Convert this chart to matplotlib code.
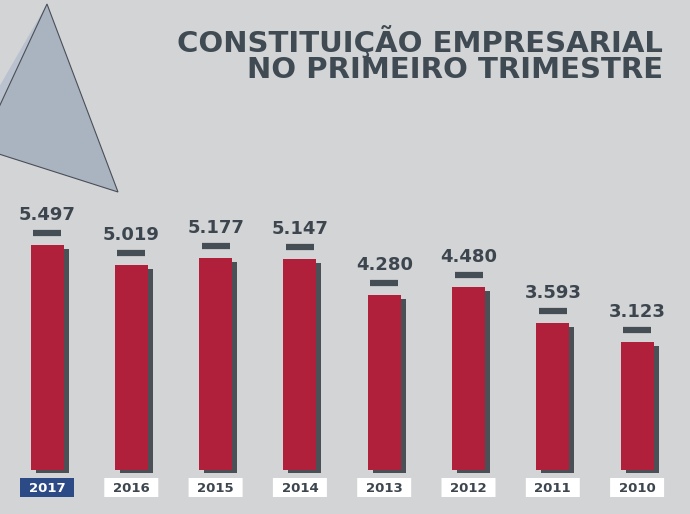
import matplotlib
matplotlib.use("Agg")
import matplotlib.pyplot as plt
from matplotlib.patches import Polygon, FancyBboxPatch
from matplotlib.transforms import blended_transform_factory
import numpy as np

years = ["2017", "2016", "2015", "2014", "2013", "2012", "2011", "2010"]
values = [5497, 5019, 5177, 5147, 4280, 4480, 3593, 3123]
labels = ["5.497", "5.019", "5.177", "5.147", "4.280", "4.480", "3.593", "3.123"]
highlight = "2017"
title_lines = ["CONSTITUIÇÃO EMPRESARIAL", "NO PRIMEIRO TRIMESTRE"]

W, H = 690, 514
BG = "#d3d4d6"
RED = "#b0203a"
SHADOW = "#4a5056"
DARK = "#3d464e"
BLUE = "#2c4a86"
FONT = ["DejaVu Sans"]

fig = plt.figure(figsize=(W / 100, H / 100), dpi=100, facecolor=BG)

# background decoration axes (pixel coords, origin top-left)
bg = fig.add_axes([0, 0, 1, 1])
bg.set_xlim(0, W)
bg.set_ylim(H, 0)
bg.axis("off")
bg.add_patch(Polygon([(47, 4), (118, 192), (-20, 148)], closed=True,
                     facecolor="#aab3c0", edgecolor="#4a4f57", lw=0.8, zorder=1))
bg.add_patch(Polygon([(47, 4), (-20, 150), (-20, 120)], closed=True,
                     facecolor="#b9c2ce", edgecolor="none", zorder=0.9))
bg.text(663, 54.5, "\n".join(title_lines), ha="right", va="center",
        multialignment="right", fontsize=21, linespacing=0.93,
        fontweight="bold", color="#3f4a52", family=FONT)

# bar axes
spacing = 84.3
scale = 225 / 5497  # px per unit
left_px = 47 - spacing / 2
base_px = 470
top_px = 150
ax = fig.add_axes([left_px / W, (H - base_px) / H, 8 * spacing / W,
                   (base_px - top_px) / H])
ax.set_xlim(-0.5, 7.5)
ax.set_ylim(0, (base_px - top_px) / scale)
ax.axis("off")
ax.patch.set_alpha(0)

x = np.arange(len(years))
bw = 33 / spacing
dx = 5 / spacing
d_top = 4 / scale
d_bot = 3 / scale
vals = np.array(values)
ax.bar(x + dx, vals - d_top + d_bot, bottom=-d_bot, width=bw, color=SHADOW,
       zorder=2, clip_on=False)
ax.bar(x, vals, width=bw, color=RED, zorder=3, clip_on=False)

for xi, v, lab in zip(x, vals, labels):
    ax.plot([xi - 14 / spacing, xi + 14 / spacing], [v + 12 / scale] * 2,
            color="#454d55", lw=4.5, solid_capstyle="butt", zorder=3,
            clip_on=False)
    ax.text(xi, v + 21 / scale, lab, ha="center", va="bottom", fontsize=13,
            fontweight="bold", color=DARK, family=FONT)

tr = blended_transform_factory(ax.transData, bg.transData)
for xi, yr in zip(x, years):
    hl = yr == highlight
    box = FancyBboxPatch((xi - 27 / spacing, 478), 54 / spacing, 19,
                         boxstyle="round,pad=0,rounding_size=0.02",
                         facecolor=BLUE if hl else "white", edgecolor="none",
                         transform=tr, clip_on=False, zorder=3)
    ax.add_patch(box)
    ax.text(xi, 488, yr, transform=tr, ha="center", va="center", fontsize=9.5,
            fontweight="bold", color="white" if hl else DARK, family=FONT,
            zorder=4)

fig.savefig("out.png", dpi=100, facecolor=BG)
